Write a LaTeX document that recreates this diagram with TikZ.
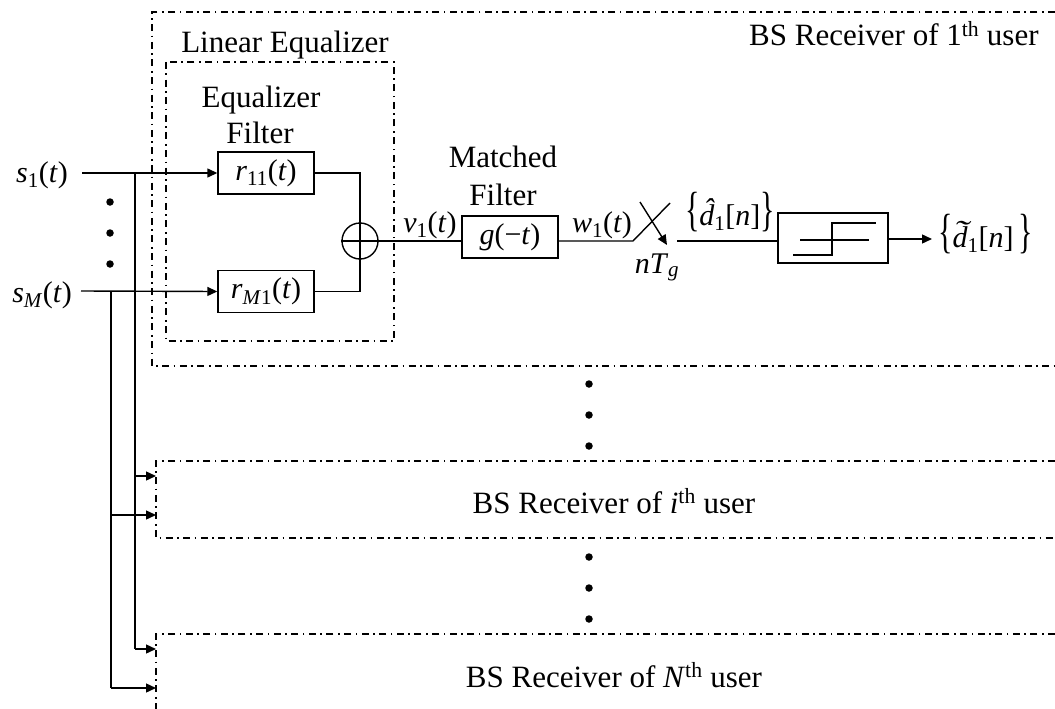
\documentclass[tikz,border=0pt]{standalone}
\usepackage{fontspec}
\setmainfont{Liberation Serif}
\usetikzlibrary{arrows.meta,calc}
\newcommand\accd[1]{\makebox[0pt][l]{\textit{d}}\makebox[0.5em]{\hspace{0.16em}\raisebox{0.2em}{#1}}}
\newcommand\tallbrace[1]{\scalebox{1}[1.6]{#1}}
\begin{document}
\begin{tikzpicture}[x=1pt,y=-1pt,
  every node/.style={inner sep=0pt, font=\fontsize{30}{34}\selectfont},
  ln/.style={line width=1.4pt},
  arr/.style={line width=1.4pt,-{Triangle[length=10pt,width=9pt]}},
  dd/.style={line width=1.3pt, dash pattern=on 7pt off 4.5pt on 1.6pt off 4.5pt},
  blk/.style={draw, line width=1.4pt, minimum width=96pt, minimum height=42pt},
  txt/.style={font=\fontsize{31}{35}\selectfont},
  dot/.style={circle, fill, minimum size=7.5pt, inner sep=0pt}]
\useasboundingbox (0,0) rectangle (1055,709);

% dash-dot frames
\draw[dd] (1055,12) -| (152,366) -- (1055,366);
\draw[dd] (166,62) rectangle (394,341);
\draw[dd] (1055,461) -| (156,538) -- (1055,538);
\draw[dd] (1055,634) -| (156,709);

% texts
\node[txt, anchor=base west] (t1) at (749,46) {BS Receiver of 1\textsuperscript{th} user};
\node[txt, anchor=base] (tle) at (285,53) {Linear Equalizer};
\node[txt, anchor=base] (teq) at (261,107) {Equalizer};
\node[txt, anchor=base] (tef) at (260,143) {Filter};
\node[txt, anchor=base] (tmf1) at (503,167) {Matched};
\node[txt, anchor=base] (tmf2) at (503,205) {Filter};
\node[txt, anchor=base] (ti) at (614,513) {BS Receiver of \textit{i}\textsuperscript{th} user};
\node[txt, anchor=base] (tN) at (614,687) {BS Receiver of \textit{N}\textsuperscript{th} user};

% blocks
\node[blk] (r11) at (266,173) {\textit{r}\textsubscript{11}(\textit{t})};
\node[blk] (rM1) at (266,291.5) {\textit{r}\textsubscript{\textit{M}1}(\textit{t})};
\node[blk] (mf) at (510,237) {\textit{g}(−\textit{t})};
\node[draw, line width=1.4pt, minimum width=110pt, minimum height=50pt] (dec) at (833,238) {};
\node[circle, draw, line width=1.4pt, minimum size=36pt] (sum) at (360,241) {};

% labels
\node[anchor=base east] (s1) at (68,182) {\textit{s}\textsubscript{1}(\textit{t})};
\node[anchor=base east] (sM) at (72,302) {\textit{s}\textsubscript{\textit{M}}(\textit{t})};
\node[anchor=base] (v1) at (430,232) {\textit{v}\textsubscript{1}(\textit{t})};
\node[anchor=base] (w1) at (602,232) {\textit{w}\textsubscript{1}(\textit{t})};
\node[anchor=base] (nT) at (657,273) {\textit{nT}\textsubscript{\textit{g}}};
\node[anchor=base east] (dh) at (775,225) {\tallbrace{\{}\accd{\textit{ˆ}}\textsubscript{1}[\textit{n}]\tallbrace{\}}};
\node[anchor=base west] (dt) at (938,247) {\tallbrace{\{}\accd{\scalebox{1.5}[1]{\textit{˜}}}\textsubscript{1}[\textit{n}]\,\tallbrace{\}}};

% coordinates
\coordinate (s1c) at (82,173);
\coordinate (sMc) at (81,291);
\coordinate (j1) at (135,173);
\coordinate (j2) at (111,291);
\coordinate (sw1) at (633,241);
\coordinate (sw2) at (677,241);
\coordinate (swt) at (670,203);
\coordinate (sa1) at (640,202);
\coordinate (sa2) at (667,245);
\coordinate (out) at (932,239);
\coordinate (bi1) at (156,476);
\coordinate (bi2) at (156,515);
\coordinate (bN1) at (156,649);
\coordinate (bN2) at (156,688);

% connectors
\draw[arr] (s1c) -- (r11.west);
\draw[arr] (sMc) -- (rM1.west);
\draw[ln] (r11.east) -| (sum.north);
\draw[ln] (rM1.east) -| (sum.south);
\draw[ln] (sum.north) -- (sum.south) (sum.west) -- (sum.east);
\draw[ln] (sum.east) -- (sum -| mf.west);
\draw[ln] (sum -| mf.east) -- (sw1) -- (swt);
\draw[arr] (sa1) -- (sa2);
\draw[ln] (sw2) -- (sw2 -| dec.west);
\draw[arr] (dec.east |- out) -- (out);
\draw[ln] (j1) -- (j1 |- bN1);
\draw[ln] (j2) -- (j2 |- bN2);
\draw[arr] (j1 |- bi1) -- (bi1);
\draw[arr] (j2 |- bi2) -- (bi2);
\draw[arr] (j1 |- bN1) -- (bN1);
\draw[arr] (j2 |- bN2) -- (bN2);

% decision symbol
\draw[ln] ($(dec.center)+(-40,17)$) -- ($(dec.center)+(-1,17)$) -- ($(dec.center)+(-1,-15)$) -- ($(dec.center)+(43,-15)$);
\draw[ln] ($(dec.center)+(-33,2)$) -- ($(dec.center)+(36,2)$);

% dots
\foreach \y [count=\i] in {202,233,264} \node[dot] (dl\i) at (110,\y) {};
\foreach \y [count=\i] in {384,415,446} \node[dot] (dm\i) at (589,\y) {};
\foreach \y [count=\i] in {557,588,619} \node[dot] (db\i) at (589,\y) {};
\end{tikzpicture}
\end{document}
